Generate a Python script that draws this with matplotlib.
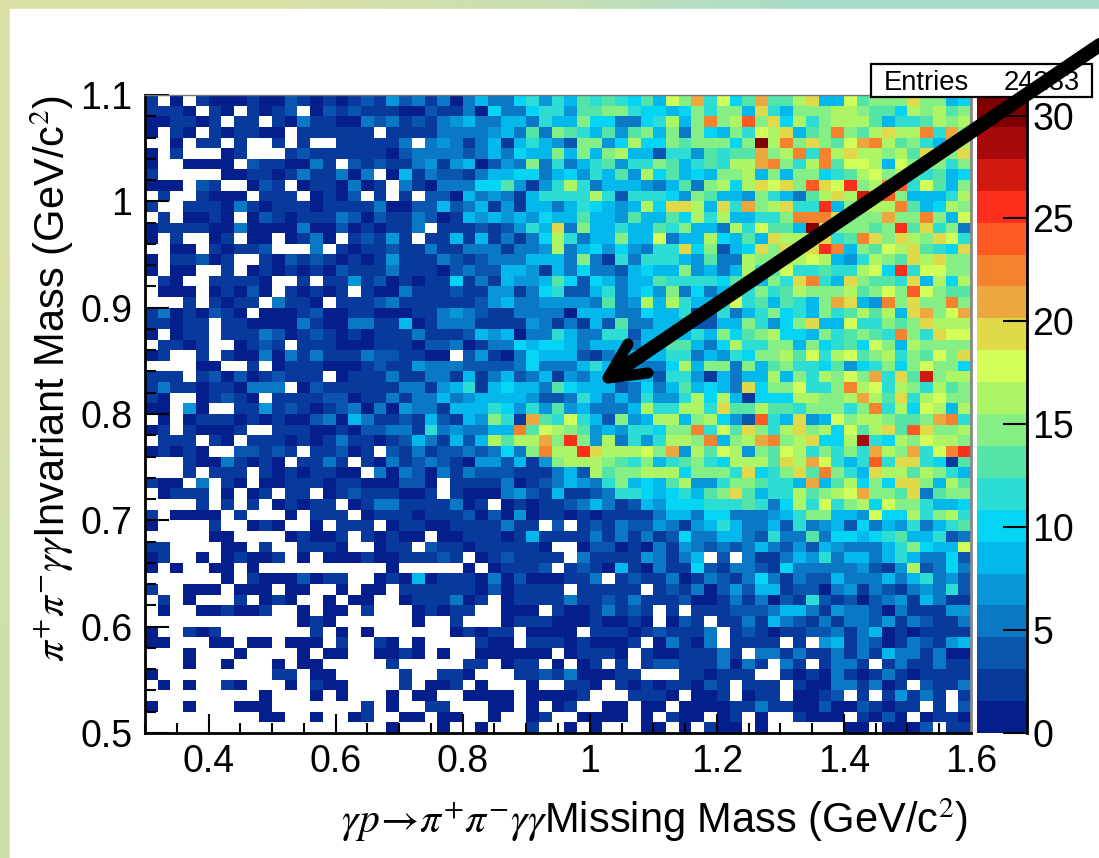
import matplotlib
matplotlib.use('Agg')
import matplotlib.pyplot as plt
import numpy as np
from matplotlib.colors import ListedColormap, BoundaryNorm, LinearSegmentedColormap
from matplotlib.lines import Line2D
from matplotlib.patches import Rectangle
from matplotlib.ticker import MultipleLocator

W, H = 1099, 858

# palette bands (bottom to top)
band_colors = ['#041e8c', '#083a9e', '#0a55b0', '#0a78c4', '#0896d8', '#05b8ec', '#05d4f5',
               '#2ddcd2', '#55e4a8', '#85ee85', '#aef565', '#d2fe5a', '#e0d94a', '#eca83e',
               '#f5822f', '#fd5a24', '#fe2e1c', '#d01a10', '#a80a0c', '#800000']
z_max = 31
entries = '24283'

x_range = (0.3, 1.6)
y_range = (0.5, 1.1)

# colour band of each cell, top row first, '.' = empty, digits base 20
left_cols = [
    "1.0.10001002101012142", "1110.10.1012.02121110", "001101.11.10311003231", "0.10.101100.111111.11",
    "..0.11.1..1.1..111113", "0.1...01...1211111102", "0..0000.2110031.21211", "1.....001101311303.05",
    "000.21..021.0110301.3", ".1..1000.111.0102.1.1", "1..111031011101111300", ".1.0010.0210111320211",
    "011110030000300201011", "0.1..01.00.0130.12141", "..00.10112...3.101121", "0.11201..102121010141",
    "0.00..1.0101010211131", ".10..11110..1.1141201", ".000.01020.10101.1003", "...1.1011.3110.111231",
    "13010210.000120011000", "11011.110000310033115", "0.011.111320121010111", ".1101..0121.111000111",
    "01..1.100303131113221", "....00..1.01110001211", "111.1202012111.011131", "13110110333.021111113",
    "10..01210.11112201131", "00.40..11412101230304", ".0.011101010023053112", "01.10001..11100102233",
    ".111.10.1110101311012", "01010..22121.11201.21", "...10031010.1131.1031", "...1.111.10101100.303",
    "100.3.10.001110110002", ".0111.0.01.11.0121110", "....1.1.1.01011.01331", "1.0000.1...0.111.0111",
    "0....1..010..0.111.01", ".....00....01001.1010", "11....00.1..1110..011", "01..0.01001.0.0001001",
    "0.0..00.0..........0.", "......0.10002011..010", "1..000.000.00..0.00.1", ".1.0...1.010..0.00..0",
    ".0..001001..0.00.1...", "............010......", "0..101.......1.0.0...", "00...00.00.000.1..10.",
    "...0...0....0.00..001", "...0..0...0.00.....1.", "0.........11.00.....1", ".0.0..10...0.100....1",
    ".........0...0.0...0.", "0..0...000.......1.0.", ".........00..0..01..0", "...................0.",
]
mid_cols = [
    "31303533674758787685b9", "0211306336774889976656", "21345335537559663367a5", "1133334538398758489593",
    ".3431351575429946a6698", "3333235365595959a55277", "3414502439373578477985", "132213556635647584a685",
    "103336684147a735554358", ".2205343157777a7277764", "225235141553576545a6cc", "3201545454655855485586",
    "3.111212475c3955755879", ".1151513136a7355955b35", "13113331334a356464377c", "1132123335553931737775",
    "1102322554153633256559", "0116131544586265355877", "1112114413672257356493", "111112453344443834a5a7",
    "1134321133330555336557", "0133311114313152833555", "3111254503375337725555", "0223013365665355535588",
    "100.241036555213555577", "433322223633357554336a", "1331513523514355555277", "3145715655386555236358",
    "3353455554223753537447", "331555764748453335a77a", "152154971d87b752945aa5", "17343355e8ba9845477699",
    "531525a8aad9g94a3747aa", "3122323639eaagcaaab9d4", "232104425149aaa9879578", "20313222111352a899aaa6",
    "20.111130123543795658a", "01.1000342151123776567", "111301.010112353125466", "0111202040110101111355",
    "1001111311.2.121322431", "0.00111015111131313126", ".2110111110..022010314", "1121.0121111.311114313",
    "....0.01112.1210510311", "501110302000113.121130", "111110201111.11111.121", "111301.011113112131112",
    "01011..000.10013121.1.", "0..1...011100010010.02", "...01011.0000.11101211", "0....100.111010001.031",
    "0.0..000000.01110.1001", "....11.011.0.01.1.1221", "..110...1121300011...1", ".001.0...0..110.101011",
    "00..0000.00001...1110.", ".11...00.0.01..00.00.0", "0.00..0..01..0000.0.10", "..0..0...1..0.0...00.0",
]
right_cols = [
    "d7b68d88ac55b8999c9956", "97995c75999aa9886a9a89", "9e9af9c6a79aaa85778a9a", "96597bac589e98acaae7d9",
    "99969jae9c98bdea8975da", "48788d9ae7eacaa9a8ca9c", "787aade97ae8bba5b99979", "6599a59599678ab9a87856",
    "39a6acbc9fcbg9aef7b859", "9855497538acahef95557a", "a5c7d9ac77g59caae856a9", "a7a55779eeec999d99e95b",
    "553a7b885ja99989g8c793", "5a6585caaac78ec9ca9cb7", "69256c9cacge598bac876c", "4833a99aaba547a98cac99",
    "4535a78b77877ab6g7bb99", "77688597ce75c9887c5a6a", "63597978a999a89b9fb988", "557b7858759dc54e9c99e9",
    "1273579675978a8a5cd9bd", "225597469c55b77989caaa", "759689a665978987e97cbb", "536a7799596786b95a9999",
    "3547699a8b7ab89a798b9c", "599395897768467969b996", "415355a597a9b9d7c8h9aa", "5653c699b779eab7a97a89",
    "a6a51666aa99ada8c7ab99", "a7c88a88799979e7a6ba5a", "9a642f75c45b9aa9889de7", "e7b8c97ac9a6b8ac8fc99a",
    "9e59ade9ac66ai76a9baa9", "a8ba498ba79797da9d7beg", "976aaa8cadb757f7cc7618", "9997c679c8e975caa8a975",
    "447998775d58a696cc95a8", "589c8577a89abd998c3899", "67778736a7b79a6b997556", "36633345799554b66a79a7",
    "4575335273452635473578", "3355327338366567855723", "323235324254333579655b", "5.2.311354735535753362",
    "62133216333334214a2363", "1321363132253335357342", "3024255122034132134372", "0013130217212023415311",
    "1112223553143320311144", "1.11315321313324132113", "13.1210112231350101111", "03.1111.1.451320132145",
    "1131.33131131315331300", "113031.31.1331.1311311", "10111..101031013101111", "021.111.100331301.2113",
    "001.011.0012.1.14131.1", "000113110020021011.1.2", "0.01.0..1000.1020.0110", ".100.0......00.0002.11",
]

# y and x tick labels as they stand in the picture
x_ticks = [0.4, 0.6, 0.8, 1.0, 1.2, 1.4, 1.6]
x_tick_labels = ['0.4', '0.6', '0.8', '1', '1.2', '1.4', '1.6']
y_ticks = [0.5, 0.6, 0.7, 0.8, 0.9, 1.0, 1.1]
y_tick_labels = ['0.5', '0.6', '0.7', '0.8', '0.9', '1', '1.1']
z_ticks = [0, 5, 10, 15, 20, 25, 30]

plt.rcParams['font.family'] = ['Liberation Sans', 'DejaVu Sans']
plt.rcParams['mathtext.fontset'] = 'stix'

n_levels = len(band_colors)
band = z_max / n_levels


def to_counts(ch):
    if ch == '.':
        return np.nan
    return (int(ch, n_levels) + 0.5) * band


rows = []
bad = []
for i in range(len(left_cols)):
    row = left_cols[i] + mid_cols[i] + right_cols[i]
    if len(row) != 65:
        bad.append((i, len(left_cols[i]), len(mid_cols[i]), len(right_cols[i])))
    rows.append([to_counts(c) for c in row])
if bad:
    raise ValueError(bad)
z = np.ma.masked_invalid(np.array(rows)[::-1])


def box(x0, y0, x1, y1):
    # pixel box (y down) to figure fractions
    return [x0 / W, 1 - y1 / H, (x1 - x0) / W, (y1 - y0) / H]


fig = plt.figure(figsize=(W / 100, H / 100), dpi=100, facecolor='white')

# pale gradient border
bg = fig.add_axes([0, 0, 1, 1], zorder=0)
bg.axis('off')
border = LinearSegmentedColormap.from_list('border', ['#dbe0a6', '#c9dfb4', '#a6dccb'])
bg.imshow([[0.0, 1.0], [0.35, 1.0]], cmap=border, vmin=0, vmax=1, aspect='auto', interpolation='bilinear')
bg.add_patch(Rectangle((10 / W, 0), 1, 1 - 9 / H, transform=bg.transAxes, color='white'))

ax = fig.add_axes(box(145, 95, 971, 733), zorder=2)
cmap = ListedColormap(band_colors)
norm = BoundaryNorm(np.linspace(0, z_max, n_levels + 1), n_levels)
xe = np.linspace(x_range[0], x_range[1], z.shape[1] + 1)
ye = np.linspace(y_range[0], y_range[1], z.shape[0] + 1)
mesh = ax.pcolormesh(xe, ye, z, cmap=cmap, norm=norm)
ax.set_xlim(x_range)
ax.set_ylim(y_range)

ax.set_xticks(x_ticks)
ax.set_xticklabels(x_tick_labels)
ax.set_yticks(y_ticks)
ax.set_yticklabels(y_tick_labels)
ax.xaxis.set_minor_locator(MultipleLocator(0.05))
ax.yaxis.set_minor_locator(MultipleLocator(0.02))
ax.tick_params(axis='x', which='major', direction='in', length=14, width=1.5, labelsize=27, pad=8)
ax.tick_params(axis='x', which='minor', direction='in', length=7, width=1.5)
ax.tick_params(axis='y', which='major', direction='in', length=17, width=1.5, labelsize=27, pad=9)
ax.tick_params(axis='y', which='minor', direction='in', length=8, width=1.5)
ax.spines['left'].set_linewidth(2)
ax.spines['bottom'].set_linewidth(2)
ax.spines['top'].set_color('#777777')
ax.spines['top'].set_linewidth(1)
ax.spines['right'].set_color('#888888')
ax.spines['right'].set_linewidth(2)

# axis titles sit at the far end of each axis
fig.text(968 / W, 1 - 820 / H, r'$\gamma p\!\rightarrow\!\pi^{+}\pi^{-}\gamma\gamma$Missing Mass (GeV/c$^{2}$)',
         ha='right', va='center', fontsize=30)
fig.text(52 / W, 1 - 95 / H, r'$\pi^{+}\pi^{-}\gamma\gamma$Invariant Mass (GeV/c$^{2}$)',
         ha='center', va='top', rotation=90, fontsize=30)

# colour scale
cax = fig.add_axes(box(977, 95, 1027, 733), zorder=2)
cb = fig.colorbar(mesh, cax=cax, ticks=z_ticks, spacing='proportional', drawedges=False)
cb.outline.set_visible(False)
cax.minorticks_off()
cax.tick_params(axis='y', direction='in', length=17.5, width=1.5, labelsize=27, pad=4, right=True, left=False)
cax.add_artist(Line2D([1, 1], [0, 1], transform=cax.transAxes, color='black', lw=2, clip_on=False))

# stats box
fig.add_artist(Rectangle((871 / W, 1 - 97 / H), 221 / W, 33 / H, transform=fig.transFigure,
                         facecolor='white', edgecolor='black', lw=1.6, zorder=5))
fig.text(884 / W, 1 - 83 / H, 'Entries', ha='left', va='center', fontsize=19.7, zorder=6)
fig.text(1080 / W, 1 - 83 / H, entries, ha='right', va='center', fontsize=19.7, zorder=6)


def pixel_line(xs, ys, lw):
    line = Line2D([x / W for x in xs], [1 - y / H for y in ys], transform=fig.transFigure, color='black',
                  lw=lw, solid_capstyle='round', solid_joinstyle='round', zorder=7)
    fig.add_artist(line)


# hand drawn arrow on top of everything
pixel_line([1110, 612], [38, 375], 10)
pixel_line([628, 608, 648], [344, 378, 373], 8)

plt.savefig('out.png', dpi=100)
plt.close()
